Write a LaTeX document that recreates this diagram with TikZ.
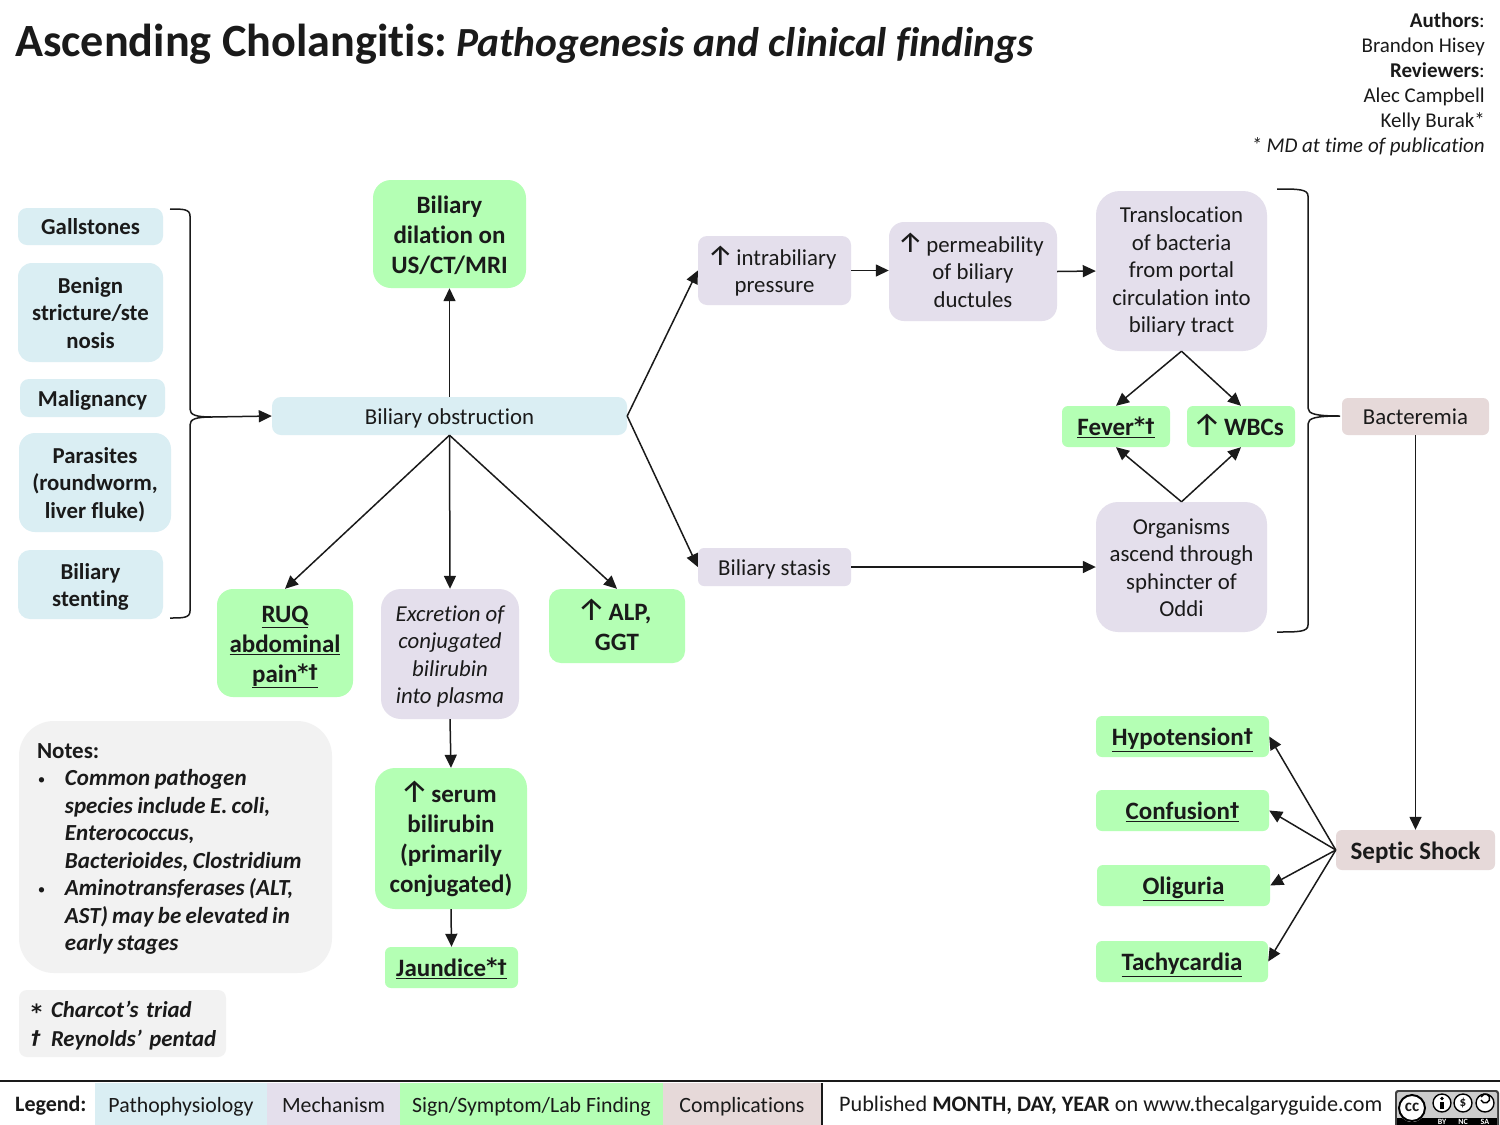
\documentclass[tikz,border=0pt]{standalone}
\usepackage{fontspec}
\usepackage{graphicx}
\setmainfont[RawFeature=-liga]{Carlito}
\newfontfamily\arrfont{DejaVu Sans}
\newfontfamily\upfont{Fira Sans}
\usetikzlibrary{arrows.meta}
\definecolor{path}{HTML}{DAEEF3}
\definecolor{mech}{HTML}{E4DFEC}
\definecolor{sign}{HTML}{B4FFB4}
\definecolor{comp}{HTML}{E6D9D9}
\definecolor{notec}{HTML}{F2F2F2}
\definecolor{ink}{HTML}{1A1A1A}
\newcommand{\upr}{\smash{\makebox[16pt][c]{\upfont\fontsize{29}{29}\selectfont ↑}}\hspace{8pt}}
\newcommand{\upb}{\smash{\makebox[18pt][c]{\upfont\mdseries\fontsize{32}{32}\selectfont ↑}}\hspace{8pt}}
\newcommand{\dg}{\raisebox{3.5pt}{\arrfont\bfseries\fontsize{19}{19}\selectfont †}}
\newcommand{\astb}{\raisebox{3pt}{\arrfont\bfseries\fontsize{21}{21}\selectfont *}}
\newcommand{\bx}[7]{%
 \pgfmathsetmacro\bxw{#5-#3}\pgfmathsetmacro\bxh{#6-#4}%
 \pgfmathsetmacro\bxx{(#3+#5)/2}\pgfmathsetmacro\bxy{(#4+#6)/2}%
 \node[#1,minimum width=\bxw pt,minimum height=\bxh pt] (#2) at (\bxx,\bxy) {\rule{0pt}{1em}#7\rule[-.26em]{0pt}{0pt}};}
\tikzset{
 x=1pt,y=-1pt,
 box/.style={inner sep=0pt,align=center,text=ink,font=\fontsize{22.8}{27.5}\selectfont,rounded corners=9pt},
 small/.style={box},
 leg/.style={box,font=\fontsize{21.8}{26}\selectfont},
 bold/.style={box,font=\fontsize{22.8}{27.5}\selectfont\bfseries},
 big/.style={box,font=\fontsize{25}{30}\selectfont\bfseries},
 itbox/.style={box,font=\fontsize{22.8}{27.5}\selectfont\itshape},
 arr/.style={draw=ink,line width=1.5pt,-{Triangle[length=13pt,width=12pt]}},
 brk/.style={draw=ink,line width=1.5pt},
 txt/.style={inner sep=0pt,text=ink},
}
\begin{document}
\begin{tikzpicture}
\useasboundingbox (0,0) rectangle (1500,1125);
\fill[white] (0,0) rectangle (1500,1125);
% title
\node[txt,anchor=base west,font=\bfseries] (title) at (15,56) {{\fontsize{46.2}{50}\selectfont Ascending Cholangitis:}\hspace{9pt}{\fontsize{41.4}{50}\selectfont\itshape Pathogenesis and clinical findings}};
\node[txt,anchor=north east,align=right,font=\fontsize{21}{25}\selectfont] (auth) at (1485,13) {\textbf{Authors}:\\Brandon Hisey\\\textbf{Reviewers}:\\Alec Campbell\\Kelly Burak*\\\textit{* MD at time of publication}};
% left column
\bx{bold,fill=path}{gall}{18}{208}{163}{245}{Gallstones}
\bx{bold,fill=path,rounded corners=14pt}{beni}{18}{263}{163}{362}{Benign\\stricture/ste\\nosis}
\bx{bold,fill=path}{mali}{20}{379}{165}{417}{Malignancy}
\bx{bold,fill=path,rounded corners=16pt}{para}{19}{433}{171}{532}{Parasites\\(roundworm,\\liver fluke)}
\bx{bold,fill=path,rounded corners=12pt}{sten}{18}{550}{163}{619}{Biliary\\stenting}
% centre
\bx{small,fill=path}{obst}{272}{397}{627}{435}{Biliary obstruction}
\bx{big,fill=sign,rounded corners=18pt}{dila}{373}{180}{526}{288}{Biliary\\dilation on\\US/CT/MRI}
\bx{big,fill=sign,rounded corners=16pt}{ruq}{217}{589}{353}{697}{\underline{RUQ}\\\underline{abdominal}\\\underline{pain\astb\dg}}
\bx{itbox,fill=mech,rounded corners=20pt}{excr}{381}{589}{519}{719}{Excretion of\\conjugated\\bilirubin\\into plasma}
\bx{big,fill=sign,rounded corners=12pt}{alp}{549}{589}{685}{663}{\upb ALP,\\GGT}
\bx{big,fill=sign,rounded corners=20pt}{seru}{375}{768}{527}{909}{\upb serum\\bilirubin\\(primarily\\conjugated)}
\bx{big,fill=sign,rounded corners=6pt}{jaun}{385}{947}{518}{988}{\underline{Jaundice\astb\dg}}
% notes
\node[txt,fill=notec,rounded corners=35pt,align=left,text width=277pt,inner xsep=18pt,inner ysep=0pt,minimum height=252pt,font=\fontsize{23}{27.5}\selectfont] (note) at (175.5,847) {\rule{0pt}{1em}\textbf{Notes:}\\
\spaceskip=4.3pt
\makebox[28pt][l]{\hspace{1pt}\raisebox{1pt}{\fontsize{15}{15}\selectfont •}}\textbf{\textit{Common pathogen}}\\
\hspace*{28pt}\textbf{\textit{species include E. coli,}}\\
\hspace*{28pt}\textbf{\textit{Enterococcus,}}\\
\hspace*{28pt}\textbf{\textit{Bacterioides, Clostridium}}\\
\makebox[28pt][l]{\hspace{1pt}\raisebox{1pt}{\fontsize{15}{15}\selectfont •}}\textbf{\textit{Aminotransferases (ALT,}}\\
\hspace*{28pt}\textbf{\textit{AST) may be elevated in}}\\
\hspace*{28pt}\textbf{\textit{early stages}}\rule[-8pt]{0pt}{0pt}};
\node[txt,fill=notec,rounded corners=8pt,align=left,text width=195pt,inner xsep=6pt,inner ysep=0pt,minimum height=67pt,font=\fontsize{22.8}{28.5}\selectfont\bfseries\itshape] (char) at (122.5,1023.5) {\rule{0pt}{1em}\hspace*{6pt}\makebox[20pt][l]{\raisebox{-5pt}{\astb}}Charcot’s triad\\\hspace*{6pt}\makebox[20pt][l]{\raisebox{-2pt}{\dg}}Reynolds’ pentad\rule[-.26em]{0pt}{0pt}};
% upper path
\bx{small,fill=mech,rounded corners=9pt}{intr}{698}{236}{851}{305}{\upr intrabiliary\\pressure}
\bx{small,fill=mech,rounded corners=15pt}{perm}{889}{222}{1057}{321}{\upr permeability\\of biliary\\ductules}
\bx{small,fill=mech,rounded corners=24pt}{tran}{1096}{191}{1267}{351}{Translocation\\of bacteria\\from portal\\circulation into\\biliary tract\rule[-9pt]{0pt}{0pt}}
\bx{big,fill=sign,rounded corners=6pt}{feve}{1062}{406}{1170}{447}{\underline{Fever\astb\dg}}
\bx{big,fill=sign,rounded corners=6pt}{wbcs}{1187}{406}{1295}{447}{\upb WBCs}
\bx{small,fill=mech,rounded corners=22pt}{orga}{1096}{502}{1267}{632}{Organisms\\ascend through\\sphincter of\\Oddi}
\bx{small,fill=mech,rounded corners=6pt}{stas}{698}{548}{851}{586}{Biliary stasis}
\bx{small,fill=comp,rounded corners=6pt}{bact}{1342}{398}{1489}{435}{Bacteremia}
\bx{big,fill=comp,rounded corners=6pt}{sept}{1336}{830}{1495}{870}{Septic Shock}
\bx{big,fill=sign,rounded corners=6pt}{hypo}{1096}{716}{1269}{757}{\underline{Hypotension\dg}}
\bx{big,fill=sign,rounded corners=6pt}{conf}{1096}{790}{1269}{831}{\underline{Confusion\dg}}
\bx{big,fill=sign,rounded corners=6pt}{olig}{1097}{865}{1270}{906}{\underline{Oliguria}}
\bx{big,fill=sign,rounded corners=6pt}{tach}{1096}{941}{1268}{982}{\underline{Tachycardia}}
% brackets
\coordinate (ltip) at (212,417);
\coordinate (rtip) at (1340,416);
\draw[brk] (170,209) .. controls (183,209) and (190,209) .. (190,216) -- (190,409) .. controls (190,415) and (196,417) .. (ltip) .. controls (196,417) and (190,419) .. (190,425) -- (190,611) .. controls (190,618) and (183,618) .. (170,618);
\draw[brk] (1277,189) .. controls (1298,189) and (1308,189) .. (1308,196) -- (1308,408) .. controls (1308,414) and (1316,416) .. (rtip) .. controls (1316,416) and (1308,418) .. (1308,424) -- (1308,625) .. controls (1308,632) and (1298,632) .. (1277,632);
% connectors
\draw[arr] (ltip) -- (obst.west);
\draw[arr] (obst.north) -- (dila.south);
\draw[arr] (obst.south) -- (ruq.north);
\draw[arr] (obst.south) -- (excr.north);
\draw[arr] (obst.south) -- (alp.north);
\draw[arr] (excr.south) -- (seru.north);
\draw[arr] (seru.south) -- (jaun.north);
\draw[arr] (obst.east) -- (intr.west);
\draw[arr] (obst.east) -- (stas.west);
\draw[arr] (intr.east) -- (intr.east -| perm.west);
\draw[arr] (perm.east) -- (tran.west);
\draw[arr] (tran.south) -- (feve.north);
\draw[arr] (tran.south) -- (wbcs.north);
\draw[arr] (orga.north) -- (feve.south);
\draw[arr] (orga.north) -- (wbcs.south);
\draw[arr] (stas.east) -- (orga.west);
\draw[arr] (bact.south) -- (bact.south |- sept.north);
\draw[arr] (sept.west) -- (hypo.east);
\draw[arr] (sept.west) -- (conf.east);
\draw[arr] (sept.west) -- (olig.east);
\draw[arr] (sept.west) -- (tach.east);
% legend
\coordinate (rl) at (0,1081);
\coordinate (rr) at (1500,1081);
\draw[ink,line width=1.6pt] (rl) -- (rr);
\node[txt,anchor=base west,font=\fontsize{22}{26}\selectfont\bfseries] (lg) at (15,1111) {Legend:};
\bx{leg,fill=path,rounded corners=0pt}{l1}{95}{1083}{267}{1125}{Pathophysiology}
\bx{leg,fill=mech,rounded corners=0pt}{l2}{267}{1083}{400}{1125}{Mechanism}
\bx{leg,fill=sign,rounded corners=0pt}{l3}{400}{1083}{663}{1125}{Sign/Symptom/Lab Finding}
\bx{leg,fill=comp,rounded corners=0pt}{l4}{663}{1083}{821}{1125}{Complications}
\draw[ink,line width=1.4pt] (822,1083) -- (822,1125);
\node[txt,anchor=base west,font=\fontsize{22.2}{26}\selectfont] (pub) at (839,1111) {Published \textbf{MONTH, DAY, YEAR} on www.thecalgaryguide.com};
% CC badge
\begin{scope}
\clip (1395,1090) rectangle (1500,1125);
\fill[black!75,rounded corners=3pt] (1395,1090) rectangle (1499,1130);
\fill[black!20,rounded corners=2pt] (1397,1092) rectangle (1497,1128);
\fill[black] (1397,1118) rectangle (1497,1125);
\fill[white] (1412,1108) circle (14);
\draw[black,line width=2pt] (1412,1108) circle (13);
\node[txt,font=\fontsize{17}{17}\selectfont\bfseries] (ccb) at (1412,1107) {cc};
\foreach \cxx in {1442,1463,1485}{\fill[white] (\cxx,1103) circle (9.5); \draw[black,line width=1.4pt] (\cxx,1103) circle (9);}
\fill[black] (1442,1098.5) circle (1.8);
\fill[black] (1440,1101.5) rectangle (1444,1109);
\node[txt,font=\fontsize{13}{13}\selectfont\bfseries] (ncs) at (1463,1103) {\$};
\draw[black,line width=1.5pt] (1481,1100) arc (160:-160:4.5);
\node[txt,text=white,font=\fontsize{8}{8}\selectfont\bfseries] (by) at (1442,1122) {BY};
\node[txt,text=white,font=\fontsize{8}{8}\selectfont\bfseries] (nc) at (1463,1122) {NC};
\node[txt,text=white,font=\fontsize{8}{8}\selectfont\bfseries] (sa) at (1485,1122) {SA};
\end{scope}
\end{tikzpicture}
\end{document}
